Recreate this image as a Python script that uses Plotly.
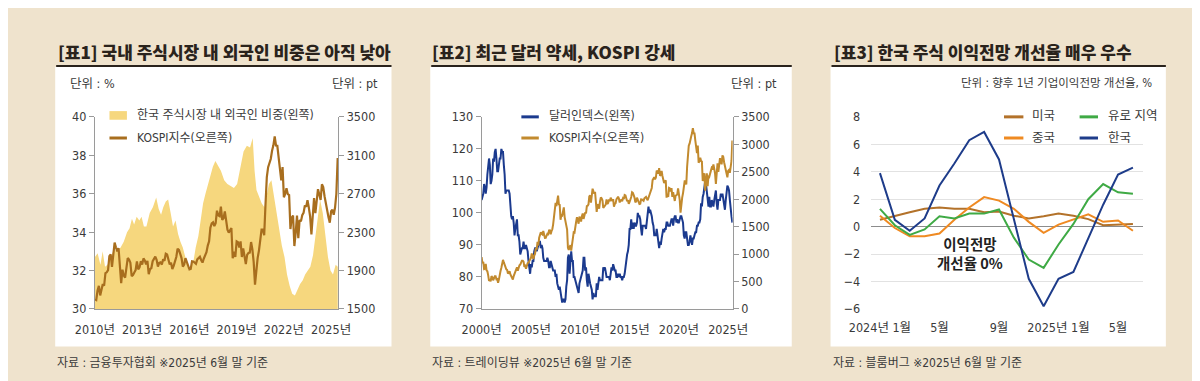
import plotly.graph_objects as go

W, H = 1200, 381


def px(x):
    return x / W


def py(y):
    return 1 - y / H


# ---------------- DATA ----------------
# Panel 1: foreign ownership share (%) of Korean stock market (left axis)
share_years = [2010.0, 2010.17, 2010.35, 2010.49, 2010.64, 2010.8, 2011.01, 2011.21, 2011.42, 2011.63,
               2011.83, 2012.04, 2012.2, 2012.35, 2012.49, 2012.65, 2012.82, 2012.96, 2013.11, 2013.27,
               2013.48, 2013.68, 2013.89, 2014.05, 2014.2, 2014.34, 2014.5, 2014.65, 2014.81, 2014.96,
               2015.12, 2015.28, 2015.43, 2015.58, 2015.74, 2015.95, 2016.11, 2016.26, 2016.4, 2016.57,
               2016.73, 2016.87, 2017.02, 2017.18, 2017.35, 2017.49, 2017.65, 2017.8, 2018.0, 2018.21,
               2018.41, 2018.62, 2018.83, 2019.03, 2019.24, 2019.44, 2019.65, 2019.85, 2020.02, 2020.14,
               2020.26, 2020.43, 2020.59, 2020.76, 2020.88, 2021.05, 2021.21, 2021.38, 2021.54, 2021.71,
               2021.87, 2022.04, 2022.2, 2022.37, 2022.53, 2022.7, 2022.86, 2023.03, 2023.2, 2023.35,
               2023.52, 2023.68, 2023.85, 2024.01, 2024.18, 2024.3, 2024.47, 2024.63, 2024.8, 2024.96,
               2025.12, 2025.29, 2025.42]
share_vals = [32.7, 32.9, 32.3, 33.0, 32.2, 32.3, 32.7, 33.1, 33.0, 33.2,
              33.5, 34.0, 34.2, 34.7, 34.4, 34.8, 34.6, 34.8, 34.3, 34.3,
              35.0, 35.3, 35.8, 35.2, 34.9, 35.3, 35.6, 35.7, 35.0, 34.3,
              34.6, 33.9, 33.5, 33.2, 32.7, 32.0, 32.3, 32.5, 33.2, 33.8,
              34.7, 35.5, 36.0, 36.5, 37.0, 37.4, 37.7, 37.5, 37.2, 36.7,
              36.5, 36.4, 36.3, 36.5, 37.3, 38.2, 38.5, 38.4, 38.9, 37.2,
              36.2, 35.8, 35.5, 35.3, 35.8, 36.5, 36.7, 35.8, 35.2, 34.2,
              33.3, 32.7, 31.8, 31.2, 30.8, 30.7, 31.0, 31.3, 31.5, 31.8,
              32.0, 32.2, 32.8, 33.8, 35.0, 35.7, 35.0, 33.7, 32.7, 32.0,
              31.8, 32.3, 32.2]

# Panel 1: KOSPI monthly, 2010-01 .. 2025-06 (right axis)
kospi_2010 = [1602, 1594, 1692, 1741, 1641, 1698, 1759, 1742, 1873, 1882, 1905, 2051,
              2069, 1939, 2107, 2192, 2142, 2100, 2133, 1880, 1770, 1909, 1847, 1826,
              1956, 2030, 2014, 1982, 1843, 1854, 1881, 1905, 1996, 1912, 1933, 1997,
              1962, 2027, 2005, 1964, 2001, 1863, 1914, 1926, 1997, 2031, 2045, 2011,
              1941, 1980, 1986, 1962, 2017, 2002, 2076, 2068, 2020, 1964, 1981, 1916,
              1949, 1986, 2041, 2127, 2115, 2074, 2030, 1941, 1963, 2029, 1991, 1961,
              1912, 1917, 1996, 1994, 1983, 1970, 2016, 2034, 2043, 2008, 1983, 2026,
              2067, 2091, 2160, 2205, 2347, 2392, 2402, 2363, 2394, 2523, 2476, 2467,
              2566, 2427, 2445, 2515, 2423, 2326, 2295, 2322, 2343, 2029, 2096, 2041,
              2204, 2195, 2140, 2203, 2041, 2130, 2024, 1968, 2063, 2083, 2087, 2197,
              2119, 1987, 1754, 1947, 2030, 2108, 2249, 2326, 2327, 2267, 2591, 2873,
              2976, 3013, 3061, 3147, 3204, 3296, 3202, 3199, 3068, 2970, 2839, 2977,
              2663, 2699, 2757, 2695, 2685, 2332, 2451, 2472, 2155, 2293, 2472, 2236,
              2425, 2412, 2476, 2501, 2577, 2564, 2632, 2556, 2465, 2277, 2535, 2655,
              2497, 2642, 2747, 2692, 2636, 2798, 2770, 2674, 2593, 2556, 2456, 2399,
              2517, 2532, 2481, 2556, 2697, 3071]

# Panel 2: KOSPI 2000-01 .. 2009-12 (then continues with kospi_2010)
kospi_2000 = [943, 829, 860, 725, 731, 821, 705, 688, 613, 514, 526, 505,
              598, 575, 523, 577, 595, 595, 541, 545, 479, 535, 639, 693,
              752, 819, 895, 848, 797, 743, 722, 714, 646, 665, 689, 628,
              591, 575, 535, 600, 634, 669, 712, 759, 697, 778, 797, 810,
              848, 880, 880, 862, 770, 785, 735, 810, 835, 845, 869, 896,
              932, 1011, 965, 911, 970, 1008, 1111, 1083, 1221, 1158, 1297, 1379,
              1399, 1371, 1359, 1419, 1317, 1295, 1297, 1352, 1371, 1364, 1432, 1434,
              1360, 1417, 1452, 1542, 1700, 1743, 1933, 1873, 1946, 2065, 1906, 1897,
              1625, 1711, 1704, 1825, 1852, 1674, 1595, 1474, 1448, 1113, 1076, 1124,
              1162, 1063, 1206, 1369, 1396, 1390, 1557, 1592, 1673, 1580, 1555, 1682]

# Panel 2: Dollar index monthly 2000-01 .. 2025-06 (left axis)
dollar = [104, 105, 106, 109, 108, 106, 108, 112, 114, 117, 115, 109,
          110, 112, 117, 116, 119, 120, 117, 113, 113, 116, 117, 117,
          120, 119, 119, 115, 112, 106, 107, 107, 107, 107, 106, 102,
          99, 98, 99, 97, 93, 95, 97, 98, 93, 93, 91, 87,
          88, 89, 89, 91, 89, 89, 90, 89, 88, 85, 82, 81,
          84, 83, 85, 85, 88, 89, 89, 88, 89, 90, 91, 91,
          89, 90, 89, 86, 85, 85, 85, 85, 86, 85, 83, 83,
          85, 84, 83, 82, 82, 82, 80, 81, 78, 77, 76, 77,
          75, 74, 72, 73, 73, 72, 73, 77, 79, 86, 87, 81,
          86, 88, 85, 85, 80, 80, 79, 78, 77, 76, 75, 78,
          79, 80, 81, 82, 86, 86, 82, 83, 79, 77, 81, 79,
          78, 77, 76, 73, 75, 74, 74, 74, 78, 76, 78, 80,
          79, 79, 79, 79, 83, 82, 83, 81, 80, 80, 80, 80,
          79, 82, 83, 82, 84, 83, 82, 82, 80, 80, 81, 80,
          81, 80, 80, 79, 80, 80, 81, 83, 86, 87, 88, 90,
          95, 95, 98, 95, 97, 95, 97, 96, 96, 97, 100, 99,
          99, 98, 95, 93, 96, 96, 96, 96, 95, 98, 101, 102,
          100, 101, 100, 99, 97, 96, 93, 93, 93, 95, 93, 92,
          89, 91, 90, 92, 94, 95, 94, 95, 95, 97, 97, 96,
          96, 96, 97, 98, 98, 96, 98, 99, 99, 97, 98, 97,
          97, 98, 99, 99, 98, 97, 93, 92, 94, 94, 92, 90,
          90, 91, 93, 91, 90, 92, 92, 93, 94, 94, 96, 96,
          97, 97, 98, 103, 102, 105, 106, 108, 110, 109, 106, 104,
          102, 105, 102, 102, 104, 103, 102, 104, 106, 107, 103, 101,
          104, 104, 104, 106, 105, 106, 104, 102, 101, 104, 106, 108.5,
          108, 107, 104, 100, 99, 97]

# Panel 3: 12-month forward earnings revision (%) 2024-01 .. 2025-06
months3 = list(range(18))
us = [0.5, 0.8, 1.05, 1.3, 1.4, 1.3, 1.3, 1.05, 1.1, 0.8, 0.6, 0.75, 0.95, 0.8, 0.55, 0.1, 0.15, 0.2]
china = [0.8, -0.1, -0.7, -0.7, -0.5, 0.5, 1.4, 2.15, 1.9, 1.3, 0.35, -0.45, 0.15, 0.5, 0.9, 0.35, 0.45, -0.3]
euro = [1.3, 0.1, -0.6, -0.2, 0.75, 0.6, 0.95, 0.95, 1.25, -0.8, -2.4, -3.0, -1.3, 0.2, 2.0, 3.1, 2.5, 2.4]
korea = [3.9, 0.5, -0.3, 0.6, 3.0, 4.6, 6.3, 6.9, 4.9, 0.5, -3.8, -5.8, -3.8, -3.3, -0.8, 1.6, 3.8, 4.3]

# tick labels
p1_years = [2010, 2013, 2016, 2019, 2022, 2025]
p1_labels = ["2010년", "2013년", "2016년", "2019년", "2022년", "2025년"]
p2_years = [2000, 2005, 2010, 2015, 2020, 2025]
p2_labels = ["2000년", "2005년", "2010년", "2015년", "2020년", "2025년"]
p3_ticks = [0, 4, 8, 12, 16]
p3_labels = ["2024년 1월", "5월", "9월", "2025년 1월", "5월"]

# ---------------- STYLE ----------------
BG = "#EFE3CD"
DARK = "#2A231C"
AREA = "#F6D77E"
KOSPI1 = "#A86E1E"
KOSPI2 = "#C28A2E"
NAVY = "#1B3A8E"
C_US = "#B3722A"
C_CN = "#EF8A22"
C_EU = "#3FAA45"
C_KR = "#1E3C8A"
AXIS = "#9A9A9A"
TXT = "#3A3A3A"
NUMFONT = "Liberation Sans Narrow, DejaVu Sans Condensed, Liberation Sans, Noto Sans CJK KR, sans-serif"
KRFONT = "Noto Sans CJK KR, sans-serif"

fig = go.Figure()

x_k1 = [2010 + i / 12 for i in range(len(kospi_2010))]
kospi_all = kospi_2000 + kospi_2010
x_k2 = [2000 + i / 12 for i in range(len(kospi_all))]
x_d = [2000 + i / 12 for i in range(len(dollar))]

# Panel 1
fig.add_trace(go.Scatter(x=share_years, y=share_vals, mode="lines", fill="tozeroy",
                         line=dict(width=0, color=AREA), fillcolor=AREA,
                         xaxis="x", yaxis="y", hoverinfo="skip"))
fig.add_trace(go.Scatter(x=x_k1, y=kospi_2010, mode="lines",
                         line=dict(width=2.2, color=KOSPI1), xaxis="x", yaxis="y2"))
# Panel 2
fig.add_trace(go.Scatter(x=x_d, y=dollar, mode="lines",
                         line=dict(width=2, color=NAVY), xaxis="x2", yaxis="y3"))
fig.add_trace(go.Scatter(x=x_k2, y=kospi_all, mode="lines",
                         line=dict(width=2, color=KOSPI2), xaxis="x2", yaxis="y4"))
# Panel 3
for vals, col in [(us, C_US), (china, C_CN), (euro, C_EU), (korea, C_KR)]:
    fig.add_trace(go.Scatter(x=months3, y=vals, mode="lines",
                             line=dict(width=2, color=col), xaxis="x3", yaxis="y5"))

tickfont = dict(family=NUMFONT, size=12.5, color=TXT)
ydom = [py(305), py(105)]

common_y = dict(showgrid=False, zeroline=False, showline=True, linecolor=AXIS, linewidth=1,
                ticks="outside", ticklen=5, tickcolor=AXIS, tickfont=tickfont, domain=ydom)
common_x = dict(showgrid=False, zeroline=False, showline=True, linecolor=AXIS, linewidth=1,
                ticks="", tickfont=tickfont, ticklabelstandoff=9)

fig.update_layout(
    width=W, height=H, margin=dict(l=0, r=0, t=0, b=0),
    paper_bgcolor=BG, plot_bgcolor="white", showlegend=False,
    xaxis=dict(common_x, domain=[px(67), px(318)], range=[2010.0, 2025.45], anchor="y",
               tickmode="array", tickvals=p1_years, ticktext=p1_labels),
    yaxis=dict(common_y, range=[30, 40], tickmode="array", tickvals=[30, 32, 34, 36, 38, 40],
               anchor="x", side="left"),
    yaxis2=dict(common_y, range=[1500, 3500], tickmode="array",
                tickvals=[1500, 1900, 2300, 2700, 3100, 3500],
                anchor="x", side="right", overlaying="y"),
    xaxis2=dict(common_x, domain=[px(466), px(725)], range=[2000.0, 2025.45], anchor="y3",
                tickmode="array", tickvals=p2_years, ticktext=p2_labels),
    yaxis3=dict(common_y, range=[70, 130], tickmode="array",
                tickvals=[70, 80, 90, 100, 110, 120, 130], anchor="x2", side="left"),
    yaxis4=dict(common_y, range=[0, 3500], tickmode="array",
                tickvals=[0, 500, 1000, 1500, 2000, 2500, 3000, 3500],
                anchor="x2", side="right", overlaying="y3"),
    xaxis3=dict(showgrid=False, zeroline=False, showline=False, ticks="", tickfont=tickfont,
                domain=[px(868), px(1148)], range=[-0.586, 17.65], anchor="y5",
                tickmode="array", tickvals=p3_ticks, ticktext=p3_labels, ticklabelstandoff=9),
    yaxis5=dict(showgrid=True, gridcolor="#E2E2E2", gridwidth=1, zeroline=True,
                zerolinecolor="#8C8C8C", zerolinewidth=1, showline=False, ticks="",
                tickfont=tickfont, domain=[py(306), py(104)], range=[-6.07, 8.07],
                tickmode="array", tickvals=[-6, -4, -2, 0, 2, 4, 6, 8], anchor="x3",
                ticklabelstandoff=10),
)

shapes = []
annotations = []

panels = [(26, 373), (413, 786), (826, 1172)]
for (x0, x1) in panels:
    shapes.append(dict(type="rect", xref="paper", yref="paper", x0=px(x0), x1=px(x1),
                       y0=py(344), y1=py(53), fillcolor="white", line=dict(width=0), layer="below"))
    shapes.append(dict(type="line", xref="paper", yref="paper", x0=px(x0 + 1), x1=px(x1),
                       y0=py(52), y1=py(52), line=dict(color=DARK, width=2)))

titles = [(27, "[표1] 국내 주식시장 내 외국인 비중은 아직 낮아"),
          (413, "[표2] 최근 달러 약세, KOSPI 강세"),
          (827, "[표3] 한국 주식 이익전망 개선율 매우 우수")]
for x0, t in titles:
    annotations.append(dict(text=t, xref="paper", yref="paper", x=px(x0), y=py(37),
                            xanchor="left", yanchor="middle", showarrow=False,
                            font=dict(family=KRFONT, size=17, color=DARK, weight=900)))

footers = [(26, "자료 : 금융투자협회 ※2025년 6월 말 기준"),
           (413, "자료 : 트레이딩뷰 ※2025년 6월 말 기준"),
           (826, "자료 : 블룸버그 ※2025년 6월 말 기준")]
for x0, t in footers:
    annotations.append(dict(text=t, xref="paper", yref="paper", x=px(x0), y=py(361),
                            xanchor="left", yanchor="middle", showarrow=False,
                            font=dict(family=NUMFONT, size=12, color=TXT)))


def label(x, y, t, anchor="left", size=12.5, color=TXT, family=NUMFONT):
    annotations.append(dict(text=t, xref="paper", yref="paper", x=px(x), y=py(y),
                            xanchor=anchor, yanchor="middle", showarrow=False,
                            font=dict(family=family, size=size, color=color)))


# units
label(39, 70, "단위 : %")
label(361, 70, "단위 : pt", anchor="right")
label(773, 70, "단위 : pt", anchor="right")
label(1160, 70, "단위 : 향후 1년 기업이익전망 개선율, %", anchor="right", size=11.5)


def swatch_line(x0, x1, y, color):
    shapes.append(dict(type="line", xref="paper", yref="paper", x0=px(x0), x1=px(x1),
                       y0=py(y), y1=py(y), line=dict(color=color, width=3)))


# legend panel 1
shapes.append(dict(type="rect", xref="paper", yref="paper", x0=px(82), x1=px(100),
                   y0=py(108), y1=py(99), fillcolor=AREA, line=dict(width=0)))
label(108, 103, "한국 주식시장 내 외국인 비중(왼쪽)", size=12)
swatch_line(82, 100, 127, KOSPI1)
label(108, 127, "KOSPI지수(오른쪽)", size=12)

# legend panel 2
swatch_line(507, 525, 105, NAVY)
label(533, 104, "달러인덱스(왼쪽)", size=12)
swatch_line(507, 525, 127, KOSPI2)
label(533, 127, "KOSPI지수(오른쪽)", size=12)

# legend panel 3
swatch_line(1005, 1025, 105, C_US)
label(1032, 104, "미국")
swatch_line(1083, 1102, 105, C_EU)
label(1110, 104, "유로 지역")
swatch_line(1005, 1025, 127, C_CN)
label(1032, 126, "중국")
swatch_line(1083, 1102, 127, C_KR)
label(1110, 126, "한국")

# annotation panel 3
annotations.append(dict(text="<b>이익전망<br>개선율 0%</b>", xref="paper", yref="paper",
                        x=px(970), y=py(247), xanchor="center", yanchor="middle", showarrow=False,
                        align="center", font=dict(family=KRFONT, size=14.5, color="#222222")))

fig.update_layout(shapes=shapes, annotations=annotations)
fig.write_html("out.html")
